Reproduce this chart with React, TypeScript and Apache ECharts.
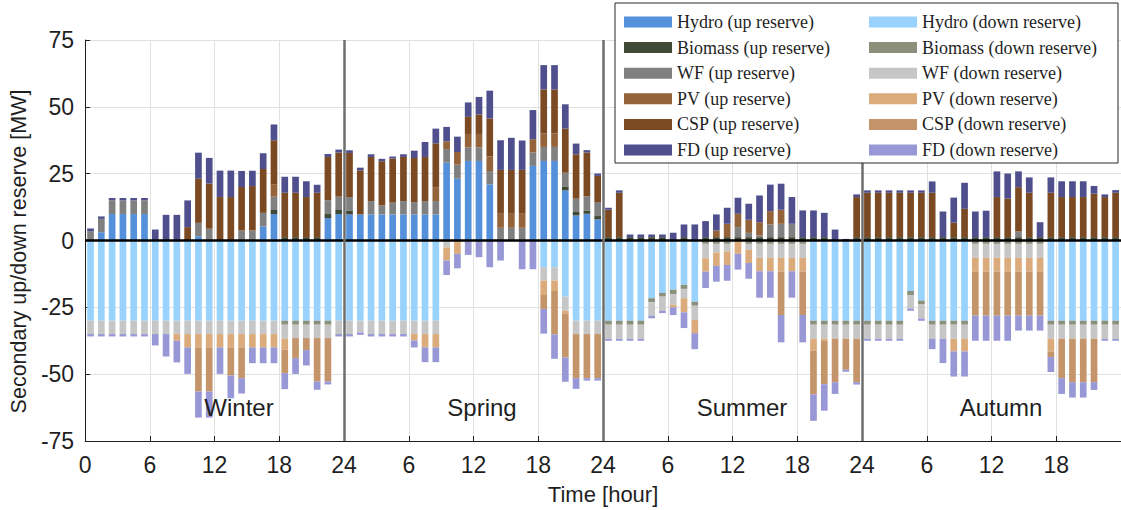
import React, { useEffect, useRef } from "react";
import * as echarts from "echarts";

// Hourly secondary reserve schedule [MW], four representative days (Winter | Spring | Summer | Autumn), 24 h each.
const seasons = ["Winter", "Spring", "Summer", "Autumn"];
const hours = ["1","2","3","4","5","6","7","8","9","10","11","12","13","14","15","16","17","18","19","20","21","22","23","24"];

// ---- Up reserve ----
const hydroUp = [
  0, 3.1, 9.9, 9.9, 9.9, 9.9, 0, 0, 0, 0, 1.6, 0, 0, 0, 0, 0, 5.25, 9.9, 0, 0, 0, 0, 8.4, 9.9,
  9.75, 9.75, 9.75, 9.75, 9.75, 9.75, 9.75, 9.75, 9.75, 29.1, 23.1, 29.75, 29.75, 21, 0, 0, 0, 27.9, 29.75, 29.75, 18.75, 9.4, 10, 7.9,
  0, 0, 0, 0, 0, 0, 0, 0, 0, 0, 0, 0, 0, 0, 0, 0, 0, 0, 0, 0, 0, 0, 0, 0,
  0, 0, 0, 0, 0, 0, 0, 0, 0, 0, 0, 0, 0, 0, 0, 0, 0, 0, 0, 0, 0, 0, 0, 0,
];
const biomassUp = [
  0, 0, 0, 0, 0, 0, 0, 0, 0, 0, 0, 0, 0, 0, 0, 0, 0, 1.5, 1.25, 1.25, 1.25, 1.25, 1.5, 1.5,
  1.5, 0, 0, 0, 0, 0, 0, 0, 0, 0, 0, 0, 0, 0, 0, 0, 0, 0, 0, 0, 1.5, 1.25, 1.25, 1.25,
  1.25, 1.25, 1.25, 1.25, 1.25, 1.25, 0, 1.25, 0, 1.25, 1.25, 1.25, 1.25, 1.25, 1.25, 1.25, 1.25, 1.25, 1.25, 1.25, 1.25, 0, 0, 1.25,
  1.25, 1.25, 1.25, 1.25, 1.25, 1.25, 1.25, 1.25, 1.25, 1.25, 1.25, 1.25, 1.25, 1.25, 1.25, 1.25, 1.25, 1.25, 1.25, 1.25, 1.25, 1.25, 1.25, 1.25,
];
const wfUp = [
  3.5, 5, 5.1, 5.1, 5.1, 5.1, 0, 0, 0, 0, 5, 4.4, 0, 0, 3.75, 3.75, 5.1, 5, 0, 0, 0, 0, 5.1, 5,
  5, 0, 5, 3.4, 4.4, 5, 4.6, 5, 5, 5.1, 5.25, 5.1, 5.1, 5, 4.75, 4.75, 4.75, 5, 5.25, 5.25, 5.1, 5, 5.25, 5.25,
  0, 0, 0, 0, 0, 0, 0, 0, 0, 0, 0, 0, 3.75, 1.6, 0.6, 4.75, 5, 5, 0, 0, 0, 0, 0, 0,
  0, 0, 0, 0, 0, 0, 0, 0, 0, 0, 0, 0, 0, 0, 2.1, 0, 0, 0, 0, 0, 0, 0, 0, 0,
];
const pvUp = [
  0, 0, 0, 0, 0, 0, 0, 0, 0, 0, 0, 0, 0, 0, 0, 0, 0, 4.5, 0, 0, 0, 0, 0, 0,
  0, 0, 0, 0, 0, 0, 0, 0, 5, 2.9, 4.75, 5, 5, 5.4, 5.25, 5.25, 5.25, 5, 5, 5, 0, 0, 0, 0,
  0, 0, 0, 0, 0, 0, 0, 0, 0, 0, 2.5, 5, 5, 4.9, 5, 5, 5.25, 0, 0, 0, 0, 0, 0, 0,
  0, 0, 0, 0, 0, 0, 0, 0, 0, 0, 0, 0, 0, 0, 0, 0, 0, 0, 0, 0, 0, 0, 0, 0,
];
const cspUp = [
  0, 0, 0, 0, 0, 0, 0, 0, 0, 5, 16.5, 16.9, 16.25, 16.25, 16.25, 16.6, 16.4, 16.6, 16.6, 16.6, 15, 16.6, 16.25, 16.5,
  16.5, 16.5, 16.5, 16.5, 16.5, 16.5, 16.5, 16.5, 16.6, 0, 0, 6.4, 7.25, 14.25, 16.4, 16.4, 16.4, 0, 16.5, 16.5, 16.5, 16.6, 16.4, 9.75,
  10.25, 16.6, 0, 0, 0, 0, 0, 0, 0, 0, 0, 0, 0, 0, 0, 0, 0, 0, 0, 0, 0, 0, 0, 15,
  16.6, 16.6, 16.6, 16.6, 16.6, 16.6, 16.6, 0, 5.4, 10.6, 0, 0, 15, 14.4, 16.6, 16.6, 0, 16.6, 15, 15, 15, 16.25, 15, 16.6,
];
const fdUp = [
  1, 0.9, 0.9, 0.9, 0.9, 0.9, 4.1, 9.6, 9.6, 10, 9.75, 9.6, 9.9, 9.9, 6, 5.75, 5.9, 5.9, 6, 6, 5.9, 3, 1.1, 1.1,
  1, 1, 1, 0.9, 0.75, 1, 2.75, 5.6, 5.5, 5.4, 5.75, 5.4, 6.6, 10.4, 11.1, 12, 11, 10.9, 9.1, 9.1, 9.1, 4, 0.9, 0.9,
  0.75, 0.9, 1, 1, 1, 1, 2.9, 4.75, 6, 6, 6, 6, 6, 6, 10, 9.9, 9.75, 10, 10, 10, 9.1, 4.1, 0.6, 1,
  0.9, 0.9, 0.9, 0.9, 0.9, 0.9, 4.25, 9.6, 9.4, 9.75, 9.6, 9.9, 9.6, 9.4, 5.9, 5.75, 5.6, 5.75, 5.9, 5.9, 5.9, 2.9, 1, 1,
];

// ---- Down reserve (magnitudes, drawn below zero) ----
const hydroDown = [
  30, 30, 30, 30, 30, 30, 30, 30, 30, 30, 30, 30, 30, 30, 30, 30, 30, 30, 30, 30, 30, 30, 30, 30,
  30, 30, 30, 30, 30, 30, 30, 30, 30, 0, 0, 0, 0, 0, 0, 0, 0, 0, 10, 10, 21, 30, 30, 30,
  30, 30, 30, 30, 21.6, 19.6, 18.4, 16.6, 22.9, 0, 0, 0, 0, 0, 0, 0, 0, 0, 0, 30, 30, 30, 30, 30,
  30, 30, 30, 30, 18.9, 22.5, 30, 30, 30, 30, 0, 0, 0, 0, 0, 0, 0, 30, 30, 30, 30, 30, 30, 30,
];
const biomassDown = [
  0, 0, 0, 0, 0, 0, 0, 0, 0, 0, 0, 0, 0, 0, 0, 0, 0, 0, 1.5, 1.5, 1.5, 1.5, 1.5, 0,
  0, 0, 0, 0, 0, 0, 0, 0, 0, 0, 0, 0, 0, 0, 0, 0, 0, 0, 0, 0, 0, 0, 0, 0,
  1.5, 1.5, 1.5, 1.5, 1.5, 1.4, 1.6, 1.5, 1.5, 1.25, 1.25, 1.25, 0, 1.25, 1.25, 1.25, 1.25, 1.25, 1.25, 1.5, 1.5, 1.5, 1.5, 1.5,
  1.5, 1.5, 1.5, 1.5, 1.5, 1.25, 1.5, 1.5, 1.5, 1.5, 1.25, 1.25, 1.25, 1.25, 1.25, 1.25, 1.25, 1.5, 1.5, 1.5, 1.5, 1.5, 1.5, 1.5,
];
const wfDown = [
  5, 5, 5, 5, 5, 5, 5, 5, 5, 5, 5, 5, 5, 5, 5, 5, 5, 5, 5.25, 5, 5, 5, 5, 5,
  5, 4.4, 5, 5, 5, 5, 5, 5, 5, 2.6, 0, 0, 0, 0, 0, 0, 0, 0, 5, 5, 5.25, 5, 5, 5,
  5.25, 5.25, 5.25, 5.25, 5, 5.25, 4, 3.5, 5.25, 5.4, 3.25, 2.9, 0, 2.25, 5.25, 5.25, 5.25, 5.25, 5.25, 5.25, 5.25, 5.25, 5.25, 5.25,
  5.25, 5.25, 5.25, 5.25, 5, 5.4, 5.25, 5.25, 5.25, 5.25, 5.25, 5.25, 5.25, 5.25, 5.25, 5.25, 5.25, 5.25, 5.25, 5.25, 5.25, 5.25, 5.25, 5.25,
];
const pvDown = [
  0, 0, 0, 0, 0, 0, 0, 0, 2.5, 5, 5, 5, 5, 5, 5, 5, 5, 5, 4.1, 0, 0, 0, 0, 0,
  0, 0, 0, 0, 0, 0, 2.4, 5, 5, 4.9, 5, 0, 0, 0, 0, 0, 0, 0, 5.1, 3.9, 1, 0, 0, 0,
  0, 0, 0, 0, 0, 0, 1, 5.25, 5, 5, 5, 5, 5, 4.9, 5, 5, 5.1, 5, 5.1, 4.4, 0.75, 0, 0, 0,
  0, 0, 0, 0, 0, 0, 0, 0, 4.75, 4.75, 5.1, 5.1, 5.1, 5.1, 5.1, 5.1, 5.1, 4.75, 0, 0, 0, 0, 0, 0,
];
const cspDown = [
  0, 0, 0, 0, 0, 0, 0, 0, 0, 0, 16.5, 16.5, 0, 10.5, 11.5, 0, 0, 0, 8.75, 7.5, 4.5, 16.25, 16.25, 0,
  0, 0, 0, 0, 0, 0, 0, 0, 0, 0, 0, 0, 0, 0, 0, 0, 0, 0, 5.5, 16.25, 16.5, 16.5, 16.5, 16.5,
  0, 0, 0, 0, 0, 0, 0, 0, 0, 0, 0, 0, 0, 0, 0, 0, 16.25, 0, 16.25, 16.4, 16.25, 16.25, 11.6, 16.25,
  0, 0, 0, 0, 0, 0, 0, 0, 0, 0, 16.5, 16.5, 16.5, 16.5, 16.5, 16.5, 16.5, 2.1, 14.75, 16.25, 16.25, 16.25, 0, 0,
];
const fdDown = [
  0.9, 0.9, 0.9, 0.9, 0.9, 0.9, 4.25, 8.4, 8.1, 9.9, 9.75, 9.75, 9.9, 8.5, 5.75, 5.9, 5.9, 5.9, 6, 5.9, 5.75, 3.1, 1.1, 0.9,
  0.9, 0.9, 0.9, 0.9, 0.9, 0.9, 2.6, 5.5, 5.5, 5.4, 5.4, 5.4, 6.25, 10, 7.5, 0, 10.75, 10.75, 9.25, 9.1, 9.1, 4, 0.9, 0.9,
  0.75, 0.75, 0.75, 0.75, 1, 0.9, 2.9, 5.9, 6, 6.1, 5.9, 5.9, 5.9, 5.9, 9.9, 9.9, 10.25, 9.9, 10.25, 9.9, 9.9, 4.4, 0.75, 0.9,
  0.75, 0.75, 0.75, 0.75, 0.9, 0.9, 3.9, 9.1, 9.4, 9.4, 9.4, 9.4, 9.4, 9.4, 5.6, 5.6, 5.6, 5.6, 5.9, 5.75, 5.75, 2.9, 0.75, 0.75,
];

const hourTickLabels = ["0", "6", "12", "18", "24"];

const upSeries = [
  { name: "Hydro (up reserve)", values: hydroUp, color: "#5591da" },
  { name: "Biomass (up reserve)", values: biomassUp, color: "#3f4935" },
  { name: "WF (up reserve)", values: wfUp, color: "#808080" },
  { name: "PV (up reserve)", values: pvUp, color: "#94633a" },
  { name: "CSP (up reserve)", values: cspUp, color: "#7b4a22" },
  { name: "FD (up reserve)", values: fdUp, color: "#4f4f8e" },
];
const downSeries = [
  { name: "Hydro (down reserve)", values: hydroDown, color: "#99d3fd" },
  { name: "Biomass (down reserve)", values: biomassDown, color: "#8a907a" },
  { name: "WF (down reserve)", values: wfDown, color: "#c6c6c6" },
  { name: "PV (down reserve)", values: pvDown, color: "#dbab7c" },
  { name: "CSP (down reserve)", values: cspDown, color: "#c4956a" },
  { name: "FD (down reserve)", values: fdDown, color: "#9898d6" },
];

const SANS = '"Liberation Sans", Arial, Helvetica, sans-serif';
const SERIF = '"Liberation Serif", "Times New Roman", serif';
const INK = "#1f1f1f";

export default function App() {
  const ref = useRef<HTMLDivElement>(null);

  useEffect(() => {
    if (!ref.current) return;
    const chart = echarts.init(ref.current, undefined, { renderer: "svg" });

    const categories = seasons.flatMap((s) => hours.map((h) => `${s} ${h}`));
    const hoursPerDay = hours.length;
    const totalHours = seasons.length * hoursPerDay;

    const barSeries = [
      ...upSeries.map((s) => ({ ...s, sign: 1 })),
      ...downSeries.map((s) => ({ ...s, sign: -1 })),
    ].map((s) => ({
      name: s.name,
      type: "bar",
      xAxisIndex: 0,
      yAxisIndex: 0,
      stack: "reserve",
      stackStrategy: "samesign",
      barWidth: "62%",
      itemStyle: { color: s.color },
      emphasis: { disabled: true },
      data: s.values.map((v) => (v === 0 ? "-" : s.sign * v)),
    }));

    const legendCommon = {
      orient: "vertical",
      top: 13,
      padding: 0,
      itemWidth: 48,
      itemHeight: 11,
      itemGap: 7.6,
      icon: "rect",
      selectedMode: false,
      z: 110,
      textStyle: { fontFamily: SERIF, fontSize: 18, color: INK, lineHeight: 18 },
    };

    const seasonLabelX = [239, 482, 742, 1001];

    chart.setOption({
      animation: false,
      backgroundColor: "#ffffff",
      textStyle: { fontFamily: SANS },
      grid: { left: 83.5, top: 40, width: 1038, height: 401, containLabel: false },
      xAxis: [
        {
          type: "category",
          data: categories,
          show: false,
          position: "top",
          boundaryGap: true,
        },
        {
          type: "value",
          min: 0,
          max: totalHours,
          interval: 6,
          position: "bottom",
          axisLine: { show: true, onZero: false, lineStyle: { color: INK, width: 1 } },
          axisTick: { show: true, inside: true, length: 5, lineStyle: { color: INK } },
          axisLabel: {
            color: INK,
            fontSize: 23,
            fontFamily: SANS,
            margin: 12,
            showMaxLabel: false,
            formatter: (v: number) => {
              if (v >= totalHours) return "";
              const h = v % hoursPerDay;
              return v > 0 && h === 0 ? hourTickLabels[4] : String(h);
            },
          },
          splitLine: { show: true, lineStyle: { color: "#e1e1e1", width: 1 } },
          name: "Time [hour]",
          nameLocation: "middle",
          nameGap: 42,
          nameTextStyle: { fontSize: 22, color: INK, fontFamily: SANS },
        },
      ],
      yAxis: {
        type: "value",
        min: -75,
        max: 75,
        interval: 25,
        axisLine: { show: true, onZero: false, lineStyle: { color: INK, width: 1 } },
        axisTick: { show: true, inside: true, length: 5, lineStyle: { color: INK } },
        axisLabel: { color: INK, fontSize: 23, fontFamily: SANS, margin: 11 },
        splitLine: { show: true, lineStyle: { color: "#e1e1e1", width: 1 } },
        name: "Secondary up/down reserve [MW]",
        nameLocation: "middle",
        nameGap: 51,
        nameTextStyle: { fontSize: 21.5, color: INK, fontFamily: SANS, padding: [0, 22, 0, 0] },
      },
      legend: [
        { ...legendCommon, left: 624, data: upSeries.map((s) => s.name) },
        { ...legendCommon, left: 869, data: downSeries.map((s) => s.name) },
      ],
      series: [
        ...barSeries,
        {
          // zero line and season separators
          type: "line",
          xAxisIndex: 1,
          yAxisIndex: 0,
          data: [[0, 0]],
          symbol: "none",
          lineStyle: { opacity: 0 },
          silent: true,
          z: 6,
          markLine: {
            silent: true,
            symbol: ["none", "none"],
            label: { show: false },
            animation: false,
            data: [
              { yAxis: 0, lineStyle: { color: "#000000", width: 2.5, type: "solid" } },
              ...[1, 2, 3].map((k) => ({
                xAxis: k * hoursPerDay,
                lineStyle: { color: "#6e6e6e", width: 2.5, type: "solid" },
              })),
            ],
          },
        },
      ],
      graphic: [
        {
          type: "rect",
          z: 100,
          shape: { x: 615, y: 3, width: 503, height: 160 },
          style: { fill: "#ffffff", stroke: "#262626", lineWidth: 1 },
        },
        ...seasons.map((s, i) => ({
          type: "text",
          z: 50,
          x: seasonLabelX[i],
          y: 407,
          style: {
            text: s,
            fill: INK,
            font: `24px ${SANS}`,
            fontSize: 24,
            fontFamily: SANS,
            align: "center",
            verticalAlign: "middle",
            textAlign: "center",
            textVerticalAlign: "middle",
          },
        })),
      ],
    });

    return () => chart.dispose();
  }, []);

  return (
    <div
      ref={ref}
      style={{ position: "fixed", left: 0, top: 0, width: 1121, height: 510, background: "#fff" }}
    />
  );
}
